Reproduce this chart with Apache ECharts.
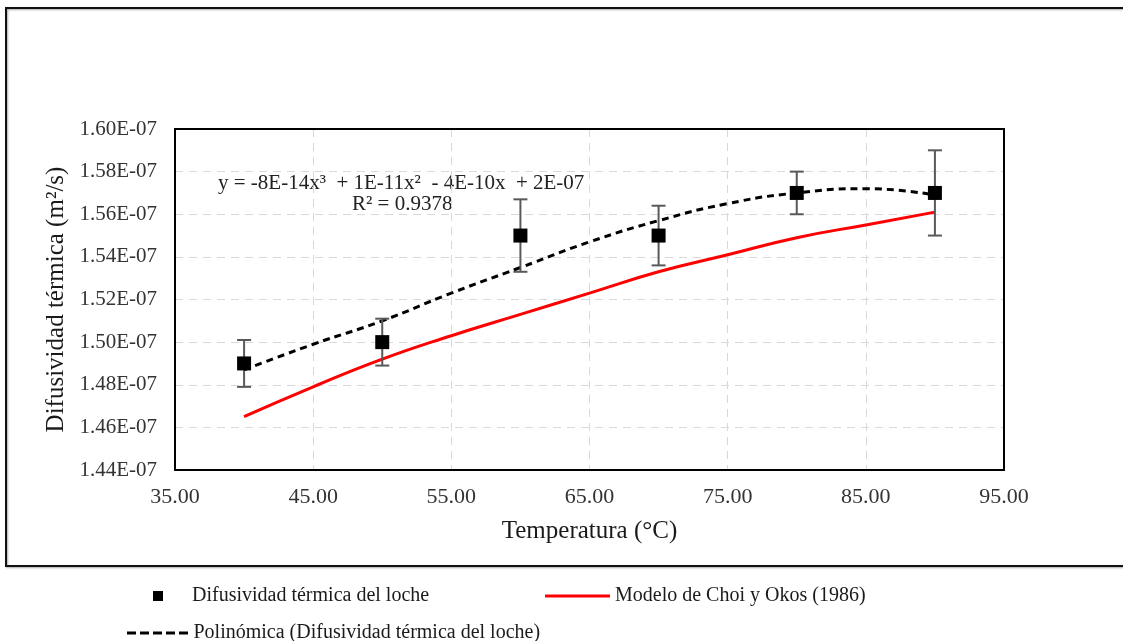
<!DOCTYPE html>
<html>
<head>
<meta charset="utf-8">
<style>
    html, body { margin: 0; padding: 0; background: #fff; }
    #chart { width: 1123px; height: 641px; }
</style>
<script src="https://cdn.jsdelivr.net/npm/echarts@6/dist/echarts.min.js"></script>
</head>
<body>
<div id="chart"></div>
<script>
// valores en unidades de 1E-07 m2/s
var temps = [40, 50, 60, 70, 80, 90];
var difusividad = [1.49, 1.50, 1.55, 1.55, 1.57, 1.57];
var errorLow = [1.479, 1.489, 1.533, 1.536, 1.560, 1.550];
var errorHigh = [1.501, 1.511, 1.567, 1.564, 1.580, 1.590];

var modeloTemps = [40, 45, 50, 55, 60, 65, 70, 75, 80, 85, 90];
var modeloChoi = [1.465, 1.479, 1.492, 1.503, 1.513, 1.523, 1.533, 1.541, 1.549, 1.555, 1.561];

var polyTemps = [40, 45, 50, 55, 60, 65, 70, 75, 80, 85, 90];
var polyValues = [1.487, 1.499, 1.510, 1.523, 1.535, 1.547, 1.557, 1.565, 1.570, 1.572, 1.569];

var yTicks = { min: 1.44, max: 1.60, step: 0.02 };
var xTicks = { min: 35, max: 95, step: 10 };

var nombrePuntos = 'Difusividad térmica del loche';
var nombreModelo = 'Modelo de Choi y Okos (1986)';
var nombrePoly = 'Polinómica (Difusividad térmica del loche)';

var serif = '"Liberation Serif", "Times New Roman", serif';

function zip(xs, ys) {
    var out = [];
    for (var i = 0; i < xs.length; i++) {
        out.push([xs[i], ys[i]]);
    }
    return out;
}

var errorData = [];
for (var i = 0; i < temps.length; i++) {
    errorData.push([temps[i], errorLow[i], errorHigh[i]]);
}

var chart = echarts.init(document.getElementById('chart'));

var legendText = { fontFamily: serif, fontSize: 20, color: '#1a1a1a' };

var option = {
    animation: false,
    backgroundColor: '#fff',
    grid: { left: 175, right: 119, top: 129, bottom: 171 },
    legend: [
        {
            data: [{ name: nombrePuntos, icon: 'rect' }],
            left: 148, top: 581,
            itemWidth: 10, itemHeight: 10,
            textStyle: Object.assign({ padding: [0, 0, 0, 24] }, legendText)
        },
        {
            data: [{ name: nombreModelo, icon: 'path://M0,0L65,0L65,3L0,3Z' }],
            left: 540, top: 581,
            itemWidth: 65, itemHeight: 3,
            textStyle: legendText
        },
        {
            // cinco guiones como en el original
            data: [{ name: nombrePoly, icon: 'path://M0,0h9v3h-9zM13,0h9v3h-9zM26,0h9v3h-9zM39,0h9v3h-9zM52,0h9v3h-9z' }],
            left: 122, top: 618,
            itemWidth: 62, itemHeight: 3,
            textStyle: legendText
        }
    ],
    graphic: [
        {
            type: 'rect',
            shape: { x: 6, y: 8, width: 1130, height: 558 },
            style: { fill: 'none', stroke: '#111', lineWidth: 2, shadowColor: 'rgba(0,0,0,0.35)', shadowBlur: 2, shadowOffsetX: 1, shadowOffsetY: 1 },
            silent: true
        },
        {
            type: 'text',
            left: 218, top: 173,
            style: { text: 'y = -8E-14x³  + 1E-11x²  - 4E-10x  + 2E-07', fontFamily: serif, fontSize: 21, fill: '#222' }
        },
        {
            type: 'text',
            left: 352, top: 194,
            style: { text: 'R² = 0.9378', fontFamily: serif, fontSize: 21, fill: '#222' }
        }
    ],
    xAxis: {
        type: 'value',
        min: xTicks.min, max: xTicks.max, interval: xTicks.step,
        name: 'Temperatura (°C)',
        nameLocation: 'middle',
        nameGap: 49,
        nameTextStyle: { fontFamily: serif, fontSize: 25, color: '#1a1a1a' },
        axisLine: { show: true, lineStyle: { color: '#000', width: 2 } },
        axisTick: { show: false },
        axisLabel: {
            fontFamily: serif, fontSize: 22, color: '#333', margin: 16,
            formatter: function (v) { return v.toFixed(2); }
        },
        splitLine: { show: true, lineStyle: { color: '#d9d9d9', type: [8, 6], width: 1 } }
    },
    yAxis: {
        type: 'value',
        min: yTicks.min, max: yTicks.max, interval: yTicks.step,
        name: 'Difusividad térmica (m²/s)',
        nameLocation: 'middle',
        nameGap: 106,
        nameTextStyle: { fontFamily: serif, fontSize: 25, color: '#1a1a1a' },
        axisLine: { show: true, lineStyle: { color: '#000', width: 2 } },
        axisTick: { show: false },
        axisLabel: {
            fontFamily: serif, fontSize: 21, color: '#333', margin: 18,
            formatter: function (v) { return v.toFixed(2) + 'E-07'; }
        },
        splitLine: { show: true, lineStyle: { color: '#d9d9d9', type: [8, 6], width: 1 } }
    },
    series: [
        {
            name: nombreModelo,
            type: 'line',
            data: zip(modeloTemps, modeloChoi),
            smooth: true,
            symbol: 'none',
            lineStyle: { color: '#ff0000', width: 3 },
            itemStyle: { color: '#ff0000' },
            z: 2
        },
        {
            name: nombrePoly,
            type: 'line',
            data: zip(polyTemps, polyValues),
            smooth: true,
            symbol: 'none',
            lineStyle: { color: '#000', width: 3, type: [7, 5] },
            itemStyle: { color: '#000' },
            z: 3
        },
        {
            name: 'error',
            type: 'custom',
            data: errorData,
            renderItem: function (params, api) {
                var x = api.value(0);
                var lo = api.coord([x, api.value(1)]);
                var hi = api.coord([x, api.value(2)]);
                var w = 7;
                var st = { stroke: '#595959', lineWidth: 2 };
                return {
                    type: 'group',
                    children: [
                        { type: 'line', shape: { x1: lo[0], y1: lo[1], x2: hi[0], y2: hi[1] }, style: st },
                        { type: 'line', shape: { x1: lo[0] - w, y1: lo[1], x2: lo[0] + w, y2: lo[1] }, style: st },
                        { type: 'line', shape: { x1: hi[0] - w, y1: hi[1], x2: hi[0] + w, y2: hi[1] }, style: st }
                    ]
                };
            },
            z: 4
        },
        {
            name: nombrePuntos,
            type: 'scatter',
            data: zip(temps, difusividad),
            symbol: 'rect',
            symbolSize: 14,
            itemStyle: { color: '#000', opacity: 1 },
            z: 5
        }
    ]
};

chart.setOption(option);

// borde del área de trazado
chart.setOption({
    graphic: option.graphic.concat([{
        type: 'rect',
        shape: { x: 175, y: 129, width: 829, height: 341 },
        style: { fill: 'none', stroke: '#000', lineWidth: 2 },
        silent: true, z: 10
    }])
});
</script>
</body>
</html>
